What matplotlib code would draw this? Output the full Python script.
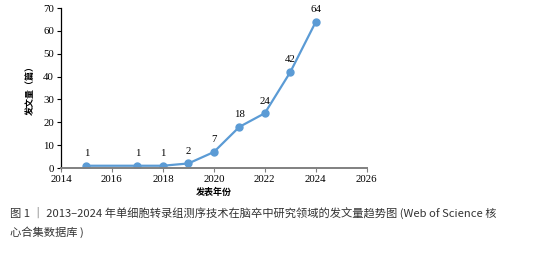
import matplotlib.pyplot as plt

# publication counts per year
years = [2015, 2017, 2018, 2019, 2020, 2021, 2022, 2023, 2024]
counts = [1, 1, 1, 2, 7, 18, 24, 42, 64]
x_ticks = [2014, 2016, 2018, 2020, 2022, 2024, 2026]
y_ticks = [0, 10, 20, 30, 40, 50, 60, 70]

cjk = ['Noto Sans CJK SC', 'DejaVu Sans']
serif = 'Liberation Serif'
blue = '#5b9bd5'

fig = plt.figure(figsize=(5.54, 2.71), dpi=100)
ax = fig.add_axes([0.110, 0.380, 0.552, 0.590])

ax.plot(years, counts, color=blue, linewidth=1.6, marker='o', markersize=5)
for x, y in zip(years, counts):
    ax.annotate(str(y), (x, y), xytext=(0, 5.5), textcoords='offset points',
                ha='center', va='bottom', fontsize=7.8, family=serif)

ax.set_xlim(2014, 2026)
ax.set_ylim(0, 70)
ax.set_xticks(x_ticks)
ax.set_yticks(y_ticks)
for lbl in ax.get_xticklabels() + ax.get_yticklabels():
    lbl.set_family(serif)
    lbl.set_fontsize(7.8)
ax.tick_params(axis='both', length=3, width=0.8, pad=2)
ax.tick_params(axis='x', colors='#808080', labelcolor='black')

ax.spines['top'].set_visible(False)
ax.spines['right'].set_visible(False)
ax.spines['bottom'].set_color('#808080')
ax.spines['bottom'].set_linewidth(1.4)
ax.spines['left'].set_linewidth(0.9)

ax.set_xlabel('发表年份', family=cjk, fontsize=6.5, fontweight='bold', labelpad=3)
ax.set_ylabel('发文量（篇）', family=cjk, fontsize=6.5, fontweight='bold', labelpad=6)

fig.text(0.018, 0.215,
         '图 1 ｜ 2013–2024 年单细胞转录组测序技术在脑卒中研究领域的发文量趋势图 (Web of Science 核',
         family=cjk, fontsize=8.1, color='#333333', va='center')
fig.text(0.018, 0.145, '心合集数据库 )',
         family=cjk, fontsize=8.1, color='#333333', va='center')

fig.savefig('out.png', dpi=100)
